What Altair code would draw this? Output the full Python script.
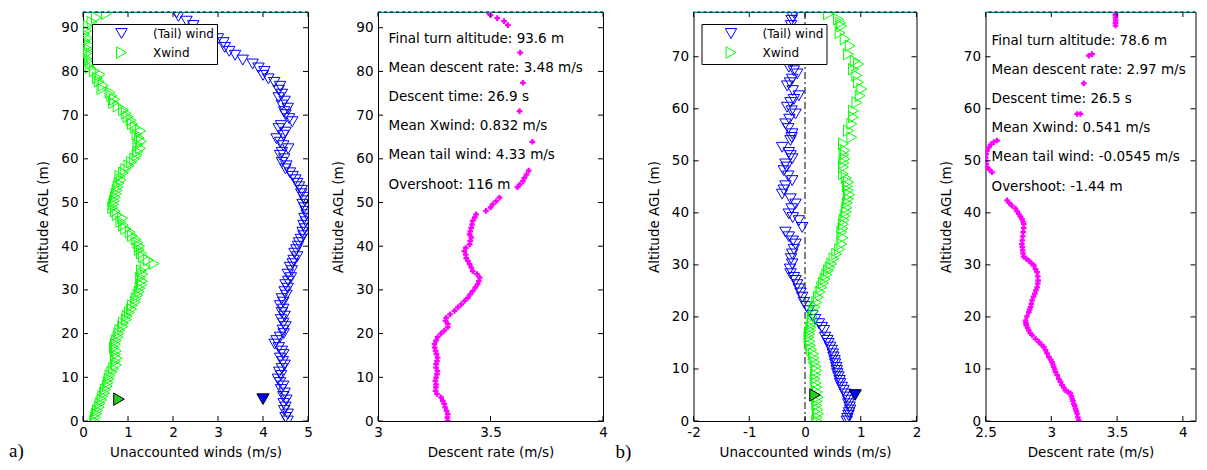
import altair as alt
import pandas as pd

FONT = "DejaVu Sans"
FS = 13.5
H = 409

# ---------------- Flight a ----------------
alt_a_tail = [93.4, 92.6, 91.5, 90.5, 89.5, 88.5, 87.5, 86.6, 85.5, 84.6, 83.7, 82.6, 81.7, 80.8, 80.0, 79.1, 78.3, 77.5, 76.6, 75.7,
              74.8, 74.0, 73.2, 72.3, 71.6, 70.8, 70.1, 69.2, 68.5, 67.6, 66.9, 66.1, 65.4, 64.6, 63.8, 63.0, 62.3, 61.5, 60.8, 60.0,
              59.2, 58.4, 57.7, 56.8, 56.0, 55.2, 54.4, 53.6, 52.8, 52.0, 51.2, 50.4, 49.6, 48.8, 48.0, 47.2, 46.4, 45.6, 44.8, 44.0,
              43.2, 42.4, 41.6, 40.8, 40.0, 39.2, 38.4, 37.6, 36.8, 36.0, 35.2, 34.4, 33.6, 32.8, 32.0, 31.2, 30.4, 29.6, 28.8, 28.0,
              27.2, 26.4, 25.6, 24.8, 24.0, 23.2, 22.4, 21.6, 20.8, 20.0, 19.2, 18.4, 17.6, 16.8, 16.0, 15.2, 14.4, 13.6, 12.8, 12.0,
              11.2, 10.4, 9.6, 8.8, 8.0, 7.2, 6.4, 5.6, 4.8, 4.0, 3.2, 2.4, 1.6, 0.8, 0.0]
tail_a = [2.08, 2.12, 2.3, 2.45, 2.65, 2.85, 3.0, 3.12, 3.15, 3.25, 3.38, 3.55, 3.77, 3.9, 4.03, 4.0, 4.12, 4.25, 4.38, 4.35,
          4.42, 4.35, 4.48, 4.42, 4.55, 4.47, 4.5, 4.58, 4.65, 4.4, 4.35, 4.5, 4.45, 4.3, 4.38, 4.45, 4.56, 4.42, 4.38, 4.47,
          4.42, 4.52, 4.5, 4.6, 4.66, 4.72, 4.76, 4.8, 4.86, 4.85, 4.9, 4.93, 4.88, 4.92, 4.95, 4.97, 4.92, 4.95, 4.9, 4.93,
          4.88, 4.9, 4.84, 4.8, 4.78, 4.74, 4.7, 4.76, 4.68, 4.66, 4.6, 4.64, 4.55, 4.62, 4.56, 4.5, 4.55, 4.48, 4.52, 4.42,
          4.45, 4.38, 4.45, 4.42, 4.48, 4.4, 4.45, 4.5, 4.44, 4.46, 4.38, 4.3, 4.26, 4.35, 4.42, 4.45, 4.38, 4.44, 4.48, 4.42,
          4.36, 4.4, 4.33, 4.38, 4.45, 4.4, 4.48, 4.45, 4.52, 4.46, 4.5, 4.47, 4.55, 4.5, 4.55]
alt_a_x = [93.2, 92.3, 91.3, 90.3, 89.3, 88.5, 87.6, 86.9, 86.0, 85.2, 84.3, 83.5, 82.6, 81.8, 80.9, 80.1, 79.3, 78.5, 77.7, 76.8,
           76.0, 75.2, 74.4, 73.6, 72.8, 72.0, 71.2, 70.4, 69.6, 68.8, 68.0, 67.2, 66.4, 65.6, 64.8, 64.0, 63.2, 62.4, 61.6, 60.8,
           60.0, 59.2, 58.4, 57.6, 56.8, 56.0, 55.2, 54.4, 53.6, 52.8, 52.0, 51.2, 50.4, 49.6, 48.8, 48.0, 47.2, 46.4, 45.6, 44.8,
           44.0, 43.2, 42.4, 41.6, 40.8, 40.0, 39.2, 38.4, 37.6, 36.8, 36.0, 35.2, 34.4, 33.6, 32.8, 32.0, 31.2, 30.4, 29.6, 28.8,
           28.0, 27.2, 26.4, 25.6, 24.8, 24.0, 23.2, 22.4, 21.6, 20.8, 20.0, 19.2, 18.4, 17.6, 16.8, 16.0, 15.2, 14.4, 13.6, 12.8,
           12.0, 11.2, 10.4, 9.6, 8.8, 8.0, 7.2, 6.4, 5.6, 4.8, 4.0, 3.2, 2.4, 1.6, 0.8, 0.0]
xwind_a = [0.52, 0.3, 0.2, 0.12, 0.08, 0.04, 0.1, 0.06, 0.14, 0.1, 0.12, 0.18, 0.14, 0.2, 0.16, 0.25, 0.38, 0.32, 0.36, 0.45,
           0.42, 0.6, 0.64, 0.7, 0.68, 0.78, 0.9, 0.96, 1.0, 1.07, 1.1, 1.16, 1.28, 1.2, 1.25, 1.3, 1.22, 1.28, 1.22, 1.2,
           1.15, 1.08, 1.02, 0.95, 0.9, 0.82, 0.85, 0.8, 0.78, 0.76, 0.74, 0.72, 0.7, 0.68, 0.66, 0.72, 0.76, 0.88, 0.84, 0.9,
           0.95, 1.05, 1.1, 1.18, 1.22, 1.26, 1.25, 1.3, 1.34, 1.45, 1.58, 1.38, 1.3, 1.33, 1.28, 1.32, 1.3, 1.27, 1.25, 1.22,
           1.18, 1.16, 1.1, 1.08, 1.03, 0.98, 0.96, 0.9, 0.88, 0.82, 0.8, 0.78, 0.74, 0.72, 0.7, 0.74, 0.72, 0.76, 0.72, 0.74,
           0.68, 0.64, 0.6, 0.58, 0.56, 0.54, 0.5, 0.48, 0.44, 0.42, 0.38, 0.36, 0.32, 0.3, 0.28, 0.26]
mean_marker_alt_a = [5.0]
mean_tail_a = [4.0]
mean_xwind_a = [0.8]
alt_a_rate = [93.6, 92.9, 92.2, 91.5, 90.6, 84.3, 77.4, 70.9, 63.9, 57.3, 56.4, 55.6, 54.9, 54.1, 53.5, 51.1, 50.3, 49.6, 48.9, 48.1,
              47.3, 46.6, 45.8, 45.0, 44.2, 43.4, 42.7, 42.0, 41.2, 40.4, 39.6, 38.9, 38.1, 37.3, 36.6, 35.9, 35.1, 34.3, 33.6, 32.8,
              32.0, 31.3, 30.5, 29.7, 29.0, 28.2, 27.5, 26.7, 26.0, 25.2, 24.4, 23.6, 22.9, 22.2, 21.5, 20.7, 20.0, 19.2, 18.4, 17.6,
              16.8, 16.0, 15.3, 14.5, 13.7, 13.0, 12.2, 11.4, 10.7, 9.9, 9.2, 8.4, 7.7, 6.9, 6.2, 5.4, 4.6, 3.9, 3.1, 2.3,
              1.6, 0.8, 0.0]
rate_a = [3.488, 3.50, 3.53, 3.56, 3.577, 3.632, 3.644, 3.629, 3.686, 3.67, 3.66, 3.65, 3.644, 3.63, 3.62, 3.54, 3.525, 3.51, 3.50, 3.48,
          3.436, 3.43, 3.421, 3.418, 3.414, 3.41, 3.407, 3.415, 3.41, 3.407, 3.39, 3.384, 3.39, 3.392, 3.40, 3.407, 3.415, 3.421, 3.44, 3.452,
          3.448, 3.443, 3.432, 3.421, 3.41, 3.399, 3.385, 3.37, 3.355, 3.34, 3.32, 3.303, 3.30, 3.31, 3.31, 3.295, 3.28, 3.265, 3.258, 3.251,
          3.252, 3.256, 3.26, 3.265, 3.262, 3.258, 3.258, 3.264, 3.262, 3.258, 3.255, 3.258, 3.257, 3.256, 3.262, 3.28, 3.288, 3.295, 3.298, 3.305,
          3.31, 3.308, 3.31]
final_alt_a = [93.6]
text_a = ["Final turn altitude: 93.6 m", "Mean descent rate: 3.48 m/s", "Descent time: 26.9 s",
          "Mean Xwind: 0.832 m/s", "Mean tail wind: 4.33 m/s", "Overshoot: 116 m"]

# ---------------- Flight b ----------------
alt_b_tail = [78.4, 77.6, 77.0, 76.0, 75.0, 74.0, 73.0, 72.0, 71.0, 70.0, 69.0, 68.0, 67.3, 66.7, 65.7, 65.0, 64.4, 63.5, 62.5, 61.8,
              61.2, 60.3, 59.6, 59.0, 58.0, 57.1, 56.2, 55.2, 54.5, 53.9, 52.6, 51.6, 51.0, 50.4, 49.4, 48.8, 48.1, 47.1, 46.2, 45.2,
              44.4, 43.6, 42.7, 41.7, 40.8, 39.8, 39.1, 38.5, 37.2, 36.3, 35.4, 34.6, 34.0, 33.0, 32.1, 31.2, 30.2, 29.2, 28.3, 27.6,
              27.0, 26.2, 25.4, 24.6, 23.8, 22.8, 22.0, 21.2, 20.3, 19.5, 18.7, 18.0, 17.4, 16.1, 15.5, 14.9, 14.2, 13.6, 12.9, 12.3,
              11.6, 11.0, 10.3, 9.7, 9.1, 8.5, 7.8, 7.2, 6.5, 5.9, 5.2, 4.6, 4.0, 3.3, 2.7, 2.1, 1.6, 1.1, 0.5, 0.0]
tail_b = [-0.2, -0.22, -0.24, -0.25, -0.22, -0.27, -0.24, -0.26, -0.22, -0.28, -0.25, -0.29, -0.2, -0.14, -0.23, -0.27, -0.32, -0.22, -0.11, -0.2,
          -0.26, -0.32, -0.24, -0.17, -0.28, -0.35, -0.3, -0.23, -0.24, -0.26, -0.41, -0.29, -0.26, -0.23, -0.35, -0.33, -0.38, -0.3, -0.23, -0.35,
          -0.38, -0.41, -0.26, -0.17, -0.24, -0.29, -0.22, -0.11, -0.05, -0.35, -0.29, -0.22, -0.17, -0.2, -0.23, -0.25, -0.23, -0.27, -0.26, -0.2,
          -0.17, -0.14, -0.11, -0.08, -0.05, -0.02, 0.03, 0.07, 0.13, 0.18, 0.25, 0.3, 0.34, 0.36, 0.4, 0.42, 0.45, 0.48, 0.5, 0.51,
          0.53, 0.54, 0.56, 0.57, 0.58, 0.6, 0.62, 0.63, 0.66, 0.69, 0.72, 0.75, 0.77, 0.78, 0.8, 0.81, 0.79, 0.78, 0.76, 0.75]
alt_b_x = [78.2, 77.2, 76.5, 75.9, 74.6, 73.4, 72.1, 70.5, 69.2, 68.6, 67.6, 66.4, 65.1, 63.8, 62.5, 61.2, 59.6, 58.4, 57.1, 55.8,
           54.5, 53.3, 52.0, 51.2, 50.4, 49.6, 48.8, 47.5, 46.7, 45.9, 45.1, 44.3, 43.5, 42.7, 41.9, 41.0, 40.2, 39.4, 38.6, 37.8,
           37.0, 36.3, 35.2, 34.0, 33.0, 32.1, 31.2, 30.2, 29.5, 28.9, 28.1, 27.3, 26.5, 25.7, 24.8, 23.8, 22.8, 21.9, 21.0, 20.0,
           19.3, 18.7, 18.0, 17.4, 16.7, 16.1, 15.3, 14.5, 13.7, 12.9, 12.1, 11.3, 10.5, 9.7, 8.9, 8.1, 7.3, 6.5, 5.6, 4.6,
           3.8, 3.0, 2.2, 1.4, 0.7, 0.0]
xwind_b = [0.42, 0.6, 0.64, 0.66, 0.63, 0.72, 0.81, 0.78, 0.9, 0.96, 0.87, 0.93, 0.96, 1.02, 0.99, 0.93, 0.87, 0.87, 0.84, 0.78,
           0.84, 0.69, 0.72, 0.7, 0.72, 0.7, 0.69, 0.69, 0.74, 0.78, 0.76, 0.78, 0.8, 0.78, 0.76, 0.75, 0.74, 0.72, 0.7, 0.69,
           0.68, 0.66, 0.68, 0.66, 0.62, 0.57, 0.52, 0.48, 0.45, 0.42, 0.39, 0.36, 0.33, 0.3, 0.27, 0.24, 0.21, 0.18, 0.15, 0.13,
           0.13, 0.13, 0.11, 0.1, 0.08, 0.07, 0.09, 0.1, 0.12, 0.15, 0.16, 0.18, 0.2, 0.21, 0.19, 0.18, 0.2, 0.21, 0.22, 0.24,
           0.22, 0.21, 0.23, 0.24, 0.22, 0.21]
mean_marker_alt_b = [5.0]
mean_tail_b = [0.9]
mean_xwind_b = [0.18]
zero_line_b = [0]
alt_b_rate = [78.5, 78.0, 77.5, 77.0, 76.5, 76.0, 70.5, 70.2, 64.9, 59.0, 59.0, 53.9, 53.6, 53.1, 52.6, 51.9, 51.3, 50.6, 50.0, 49.4,
              48.8, 48.3, 47.8, 42.4, 41.9, 41.4, 40.8, 40.3, 39.8, 39.3, 38.8, 38.3, 37.9, 37.1, 36.3, 35.5, 34.7, 34.0, 33.4, 32.8,
              32.2, 31.6, 31.2, 30.8, 30.3, 29.9, 29.2, 28.6, 27.8, 27.0, 26.4, 25.7, 25.1, 24.5, 23.9, 23.2, 22.5, 21.9, 21.4, 20.9,
              20.1, 19.3, 18.8, 18.4, 17.9, 17.4, 16.9, 16.5, 15.8, 15.2, 14.7, 14.2, 13.6, 13.0, 12.3, 11.8, 11.3, 10.9, 10.4, 9.9,
              9.4, 8.8, 8.1, 7.5, 6.9, 6.4, 5.9, 5.6, 5.3, 4.8, 4.3, 3.8, 3.3, 2.9, 2.4, 1.9, 1.4, 0.7, 0.1]
rate_b = [3.488, 3.488, 3.488, 3.49, 3.488, 3.488, 3.31, 3.285, 3.247, 3.222, 3.196, 2.588, 2.563, 2.54, 2.525, 2.51, 2.505, 2.502, 2.5, 2.505,
          2.512, 2.53, 2.55, 2.664, 2.68, 2.70, 2.728, 2.74, 2.753, 2.765, 2.778, 2.785, 2.791, 2.79, 2.786, 2.783, 2.78, 2.776, 2.78, 2.783,
          2.785, 2.79, 2.81, 2.829, 2.85, 2.867, 2.88, 2.892, 2.897, 2.9, 2.897, 2.892, 2.883, 2.875, 2.865, 2.854, 2.848, 2.842, 2.835, 2.829,
          2.815, 2.804, 2.807, 2.81, 2.82, 2.829, 2.84, 2.854, 2.88, 2.905, 2.925, 2.943, 2.956, 2.968, 2.981, 2.995, 3.006, 3.012, 3.019, 3.026,
          3.032, 3.045, 3.057, 3.07, 3.082, 3.095, 3.108, 3.125, 3.146, 3.152, 3.159, 3.165, 3.171, 3.178, 3.184, 3.19, 3.196, 3.202, 3.209]
final_alt_b = [78.6]
text_b = ["Final turn altitude: 78.6 m", "Mean descent rate: 2.97 m/s", "Descent time: 26.5 s",
          "Mean Xwind: 0.541 m/s", "Mean tail wind: -0.0545 m/s", "Overshoot: -1.44 m"]

# ---------------- axes ----------------
series_names = ["(Tail) wind", "Xwind"]
series_colors = ["#0000ff", "#00ff00"]
series_shapes = ["triangle-down", "triangle-right"]
yticks_a = [0, 10, 20, 30, 40, 50, 60, 70, 80, 90]
yticks_b = [0, 10, 20, 30, 40, 50, 60, 70]
xticks_wind_a = [0, 1, 2, 3, 4, 5]
xticks_rate_a = [3, 3.5, 4]
xticks_wind_b = [-2, -1, 0, 1, 2]
xticks_rate_b = [2.5, 3, 3.5, 4]


def one():
    return pd.DataFrame({"d": [0]})


def make_axes(xt, yt, xtitle):
    ax = alt.Axis(values=xt, title=xtitle, labelExpr="'' + datum.value")
    ay = alt.Axis(values=yt, title="Altitude AGL (m)")
    return ax, ay


def frame_layers(xs, ys, ax, ay, xt, yt, W, top_alt):
    ydf = pd.DataFrame({"a": yt})
    xdf = pd.DataFrame({"v": xt})
    rk = dict(color="black", strokeWidth=1)
    left = alt.Chart(ydf).mark_rule(**rk).encode(
        y=alt.Y("a:Q", scale=ys, axis=ay), x=alt.value(0), x2=alt.value(5))
    right = alt.Chart(ydf).mark_rule(**rk).encode(
        y=alt.Y("a:Q", scale=ys, axis=ay), x=alt.value(W - 5), x2=alt.value(W))
    bottom = alt.Chart(xdf).mark_rule(**rk).encode(
        x=alt.X("v:Q", scale=xs, axis=ax), y=alt.value(H - 5), y2=alt.value(H))
    top = alt.Chart(xdf).mark_rule(**rk).encode(
        x=alt.X("v:Q", scale=xs, axis=ax), y=alt.value(0), y2=alt.value(5))
    tdf = pd.DataFrame({"a": top_alt})
    cyan = alt.Chart(tdf).mark_rule(color="#00ffff", strokeWidth=1).encode(
        y=alt.Y("a:Q", scale=ys, axis=ay))
    dash = alt.Chart(tdf).mark_rule(color="black", strokeWidth=1, strokeDash=[3, 3]).encode(
        y=alt.Y("a:Q", scale=ys, axis=ay))
    return [left, right, bottom, top, cyan, dash]


def wind_panel(alt_t, tail, alt_x, xw, m_alt, m_tail, m_x, xdom, xt, ydom, yt, W, legx, legy, zero_vals):
    xs = alt.Scale(domain=xdom, nice=False, zero=False)
    ys = alt.Scale(domain=ydom, nice=False, zero=False)
    ax, ay = make_axes(xt, yt, "Unaccounted winds (m/s)")
    df = pd.concat([
        pd.DataFrame({"a": alt_t, "v": tail, "s": series_names[0]}),
        pd.DataFrame({"a": alt_x, "v": xw, "s": series_names[1]}),
    ])
    leg = alt.Legend(orient="none", legendX=legx, legendY=legy, title=None,
                     fillColor="white", strokeColor="black", padding=3, rowPadding=3,
                     symbolSize=130, symbolStrokeWidth=1, symbolOffset=20, labelOffset=25,
                     labelFont=FONT, labelFontSize=12, labelColor="black",
                     labelExpr="datum.label + '   '")
    layers = []
    if zero_vals:
        layers.append(alt.Chart(pd.DataFrame({"v": zero_vals})).mark_rule(
            color="black", strokeWidth=1, strokeDash=[7, 3, 2, 3]).encode(
            x=alt.X("v:Q", scale=xs, axis=ax)))
    pts = alt.Chart(df).mark_point(filled=False, size=130, strokeWidth=1, clip=True, opacity=1).encode(
        x=alt.X("v:Q", scale=xs, axis=ax),
        y=alt.Y("a:Q", scale=ys, axis=ay),
        color=alt.Color("s:N", scale=alt.Scale(domain=series_names, range=series_colors), legend=leg),
        shape=alt.Shape("s:N", scale=alt.Scale(domain=series_names, range=series_shapes), legend=leg),
    )
    mt = alt.Chart(pd.DataFrame({"a": m_alt, "v": m_tail})).mark_point(
        shape="triangle-down", filled=True, fill=series_colors[0], stroke="black", strokeWidth=1,
        size=150, opacity=1).encode(
        x=alt.X("v:Q", scale=xs, axis=ax), y=alt.Y("a:Q", scale=ys, axis=ay))
    mx = alt.Chart(pd.DataFrame({"a": m_alt, "v": m_x})).mark_point(
        shape="triangle-right", filled=True, fill="#22cc22", stroke="black", strokeWidth=1,
        size=150, opacity=1).encode(
        x=alt.X("v:Q", scale=xs, axis=ax), y=alt.Y("a:Q", scale=ys, axis=ay))
    layers += [pts, mt, mx] + frame_layers(xs, ys, ax, ay, xt, yt, W, [ydom[1]])
    return layers


def rate_panel(alt_r, rate, xdom, xt, ydom, yt, W, lines, tx, ty):
    xs = alt.Scale(domain=xdom, nice=False, zero=False)
    ys = alt.Scale(domain=ydom, nice=False, zero=False)
    ax, ay = make_axes(xt, yt, "Descent rate (m/s)")
    pts = alt.Chart(pd.DataFrame({"a": alt_r, "v": rate})).mark_point(
        shape="cross", filled=True, color="#ff00ff", size=32, clip=True, opacity=1).encode(
        x=alt.X("v:Q", scale=xs, axis=ax),
        y=alt.Y("a:Q", scale=ys, axis=ay),
    )
    txt = alt.Chart(one()).mark_text(text=lines, lineHeight=29.1, align="left", baseline="top",
                                     font=FONT, fontSize=FS, color="black").encode(
        x=alt.value(tx), y=alt.value(ty))
    layers = [pts, txt] + frame_layers(xs, ys, ax, ay, xt, yt, W, [ydom[1]])
    return alt.layer(*layers).properties(width=W, height=H)


la = wind_panel(alt_a_tail, tail_a, alt_a_x, xwind_a, mean_marker_alt_a, mean_tail_a, mean_xwind_a,
                [0, 5], xticks_wind_a, [0, 93.6], yticks_a, 225, 9, 12, None)
lab_a = alt.Chart(one()).mark_text(text="a)", align="left", baseline="middle", font="Liberation Serif",
                                   fontSize=19, color="black").encode(x=alt.value(-74), y=alt.value(439))
p1 = alt.layer(*(la + [lab_a])).properties(width=225, height=H)

p2 = rate_panel(alt_a_rate, rate_a, [3, 4], xticks_rate_a, [0, 93.6], yticks_a, 225, text_a, 10.6, 20)

lb = wind_panel(alt_b_tail, tail_b, alt_b_x, xwind_b, mean_marker_alt_b, mean_tail_b, mean_xwind_b,
                [-2, 2], xticks_wind_b, [0, 78.6], yticks_b, 223, 8, 12, zero_line_b)
lab_b = alt.Chart(one()).mark_text(text="b)", align="left", baseline="middle", font="Liberation Serif",
                                   fontSize=19, color="black").encode(x=alt.value(-78), y=alt.value(440))
p3 = alt.layer(*(lb + [lab_b])).properties(width=223, height=H)

p4 = rate_panel(alt_b_rate, rate_b, [2.5, 4.096], xticks_rate_b, [0, 78.6], yticks_b, 210, text_b, 6, 22)

left = alt.hconcat(p1, p2, spacing=18)
right = alt.hconcat(p3, p4, spacing=17)
chart = alt.hconcat(left, right, spacing=6.5).resolve_scale(
    color="independent", shape="independent"
).properties(
    padding={"left": 0, "top": 3, "right": 0, "bottom": 0}
).configure(
    background="white"
).configure_view(
    stroke="black", strokeWidth=1
).configure_axis(
    labelFont=FONT, labelFontSize=FS, titleFont=FONT, titleFontSize=FS, titleFontWeight="normal",
    labelColor="black", titleColor="black", ticks=False, domain=False, grid=False,
    labelFlush=False, labelOverlap=False, labelPadding=5, titlePadding=10
).configure_axisX(
    labelPadding=4, titlePadding=7
)

chart.save("out.html", embed_options={"renderer": "svg", "actions": False})
